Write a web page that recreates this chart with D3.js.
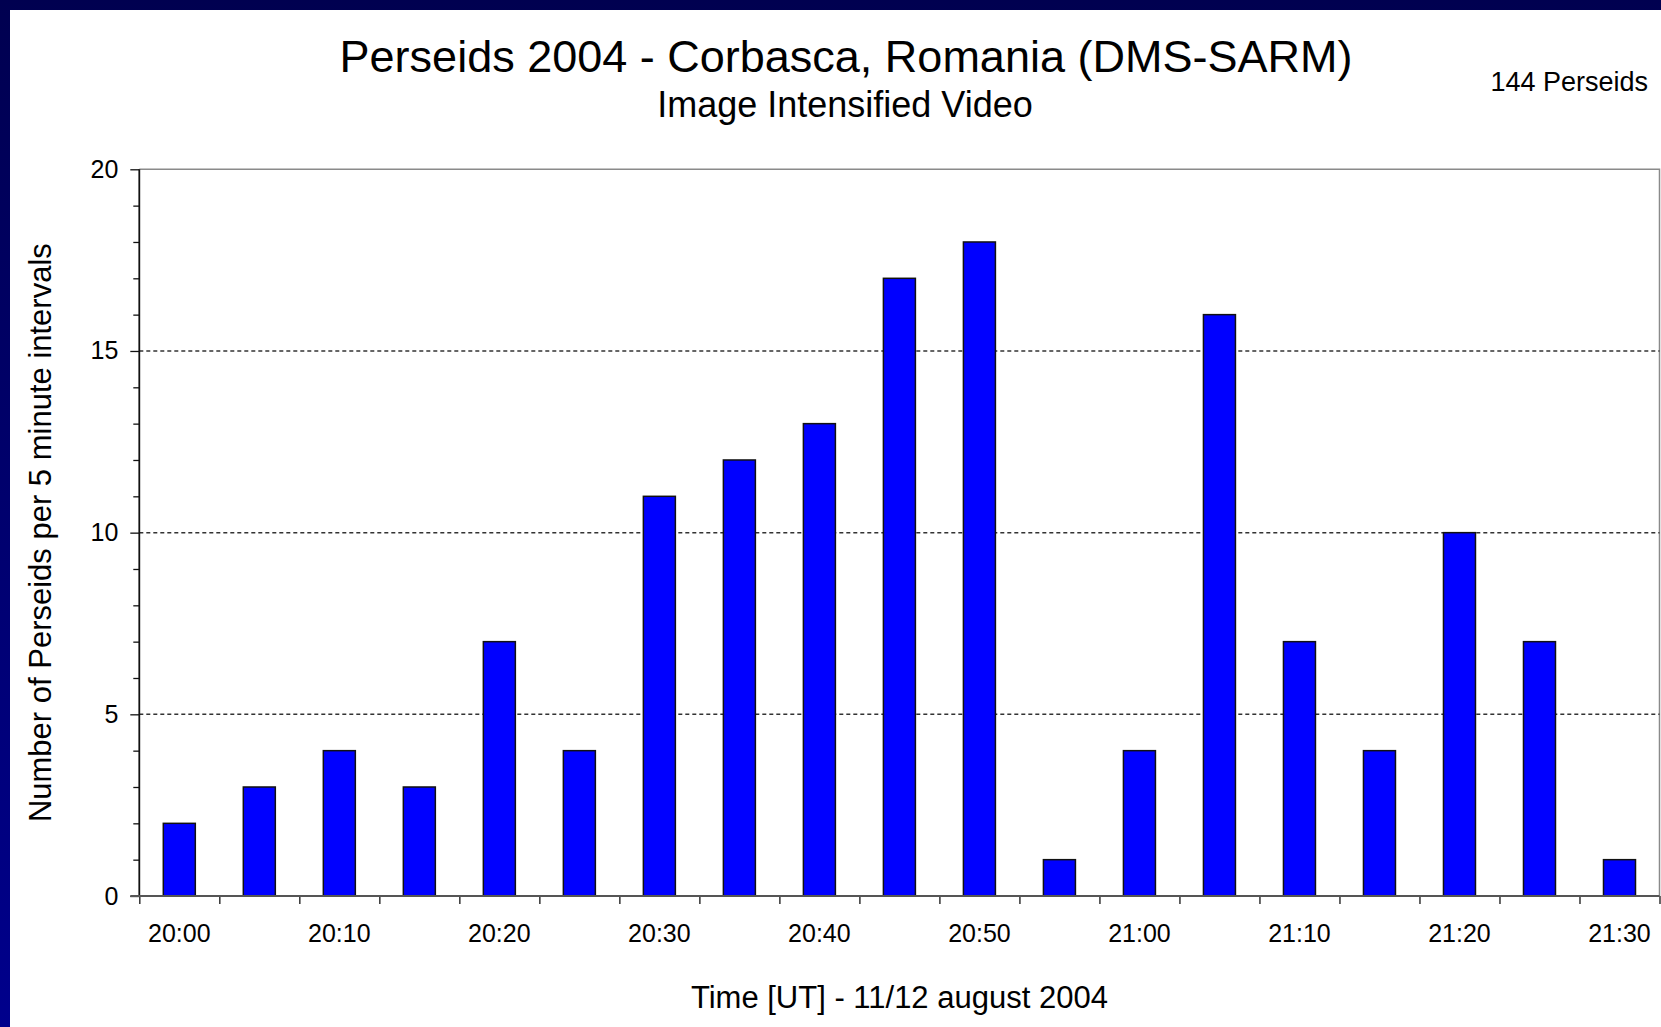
<!DOCTYPE html>
<html>
<head>
<meta charset="utf-8">
<script src="https://cdn.jsdelivr.net/npm/d3@7"></script>
<style>
  body { margin: 0; overflow: hidden; background: #fff; }
  svg { display: block; font-family: "Liberation Sans", Arial, sans-serif; }
  .domain { display: none; }
</style>
</head>
<body>
<div id="chart"></div>
<script>
// 5 minute intervals, 11/12 August 2004
const times = ['20:00', '20:05', '20:10', '20:15', '20:20', '20:25', '20:30', '20:35', '20:40', '20:45',
               '20:50', '20:55', '21:00', '21:05', '21:10', '21:15', '21:20', '21:25', '21:30'];
const counts = [2, 3, 4, 3, 7, 4, 11, 12, 13, 17, 18, 1, 4, 16, 7, 4, 10, 7, 1];
const xLabels = ['20:00', '20:10', '20:20', '20:30', '20:40', '20:50', '21:00', '21:10', '21:20', '21:30'];
const yTicks = [0, 5, 10, 15, 20];
const gridValues = [5, 10, 15];

const w = 1661;
const h = 1027;
const plotLeft = 139.3;
const plotRight = 1659.5;
const plotTop = 169.3;
const plotBottom = 896;

const svg = d3.select('#chart')
              .append('svg')
              .attr('width', w)
              .attr('height', h);

//Background frame
const grad = svg.append('defs')
                .append('linearGradient')
                .attr('id', 'frame')
                .attr('x1', 0).attr('y1', 0)
                .attr('x2', 0).attr('y2', 1);
grad.append('stop').attr('offset', '0%').attr('stop-color', '#000050');
grad.append('stop').attr('offset', '100%').attr('stop-color', '#00008c');

svg.append('rect')
   .attr('width', w)
   .attr('height', h)
   .attr('fill', 'url(#frame)');

svg.append('rect')
   .attr('x', 10)
   .attr('y', 10)
   .attr('width', w - 10)
   .attr('height', h - 10)
   .attr('fill', '#fff');

//Scales
const xScale = d3.scaleBand()
                 .domain(times)
                 .range([plotLeft, plotRight])
                 .paddingInner(0.6)
                 .paddingOuter(0.3);

const xEdge = d3.scaleLinear()
                .domain([0, times.length])
                .range([plotLeft, plotRight]);

const yScale = d3.scaleLinear()
                 .domain([0, 20])
                 .range([plotBottom, plotTop]);

//Plot frame (top and right)
svg.append('path')
   .attr('d', `M${plotLeft},${plotTop}H${plotRight}V${plotBottom}`)
   .attr('fill', 'none')
   .attr('stroke', '#8a8a8a')
   .attr('stroke-width', 1.5);

//Gridlines
svg.selectAll('.grid')
   .data(gridValues)
   .enter()
   .append('line')
   .attr('class', 'grid')
   .attr('x1', plotLeft)
   .attr('x2', plotRight)
   .attr('y1', d => yScale(d))
   .attr('y2', d => yScale(d))
   .attr('stroke', '#333')
   .attr('stroke-width', 1.5)
   .attr('stroke-dasharray', '4,3');

//Bars
svg.selectAll('.bar')
   .data(counts)
   .enter()
   .append('rect')
   .attr('class', 'bar')
   .attr('x', (d, i) => xScale(times[i]))
   .attr('y', d => yScale(d))
   .attr('width', xScale.bandwidth())
   .attr('height', d => yScale(0) - yScale(d))
   .attr('fill', '#0000ff')
   .attr('stroke', '#111')
   .attr('stroke-width', 1.5);

//Y axis
const yAxis = d3.axisLeft(yScale)
                .tickValues(d3.range(0, 21))
                .tickSize(9)
                .tickPadding(12)
                .tickFormat(d => yTicks.includes(d) ? d : '');

const gy = svg.append('g')
              .attr('transform', `translate(${plotLeft}, 0)`)
              .call(yAxis);

gy.selectAll('.tick line')
  .attr('x2', d => yTicks.includes(d) ? -9 : -6)
  .attr('stroke', '#111')
  .attr('stroke-width', 1.3);

gy.selectAll('text')
  .attr('font-size', 25)
  .attr('font-family', '"Liberation Sans", Arial, sans-serif')
  .attr('fill', '#000');

svg.append('line')
   .attr('x1', plotLeft).attr('x2', plotLeft)
   .attr('y1', plotTop).attr('y2', plotBottom)
   .attr('stroke', '#111')
   .attr('stroke-width', 1.8);

//X axis ticks at interval edges
const xAxis = d3.axisBottom(xEdge)
                .tickValues(d3.range(0, times.length + 1))
                .tickSize(8)
                .tickFormat('');

const gx = svg.append('g')
              .attr('transform', `translate(0, ${plotBottom})`)
              .call(xAxis);

gx.selectAll('.tick line')
  .attr('stroke', '#333')
  .attr('stroke-width', 1.5);

svg.append('line')
   .attr('x1', plotLeft - 9).attr('x2', plotRight)
   .attr('y1', plotBottom).attr('y2', plotBottom)
   .attr('stroke', '#555')
   .attr('stroke-width', 2);

//X labels under every other bar
const xLabelAxis = d3.axisBottom(xScale)
                     .tickSize(0)
                     .tickPadding(46)
                     .tickFormat(d => xLabels.includes(d) ? d : '');

svg.append('g')
   .attr('transform', `translate(0, ${plotBottom})`)
   .call(xLabelAxis)
   .selectAll('text')
   .attr('font-size', 25)
   .attr('font-family', '"Liberation Sans", Arial, sans-serif')
   .attr('fill', '#000')
   .attr('dy', 0);

//Titles
svg.append('text')
   .attr('x', 846)
   .attr('y', 72)
   .attr('text-anchor', 'middle')
   .attr('font-size', 45)
   .text('Perseids 2004 - Corbasca, Romania (DMS-SARM)');

svg.append('text')
   .attr('x', 845)
   .attr('y', 117)
   .attr('text-anchor', 'middle')
   .attr('font-size', 36)
   .text('Image Intensified Video');

svg.append('text')
   .attr('x', 1648)
   .attr('y', 91)
   .attr('text-anchor', 'end')
   .attr('font-size', 27)
   .text('144 Perseids');

//Axes labels
svg.append('text')
   .attr('x', (plotLeft + plotRight) / 2)
   .attr('y', 1008)
   .attr('text-anchor', 'middle')
   .attr('font-size', 31)
   .text('Time [UT] - 11/12 august 2004');

svg.append('text')
   .attr('transform', 'rotate(-90)')
   .attr('x', -(plotTop + plotBottom) / 2)
   .attr('y', 51)
   .attr('text-anchor', 'middle')
   .attr('font-size', 31)
   .text('Number of Perseids per 5 minute intervals');
</script>
</body>
</html>
